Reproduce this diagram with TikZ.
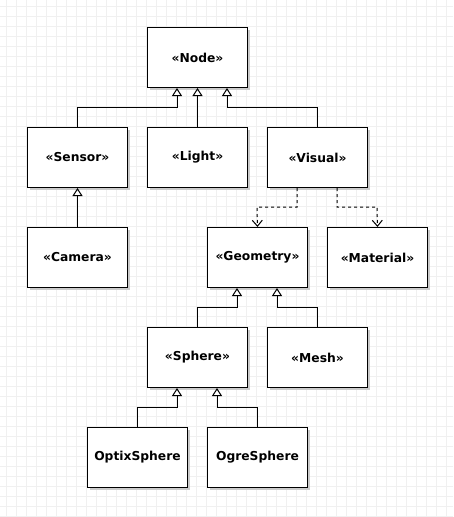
\documentclass[tikz,border=0pt]{standalone}
\usepackage{fontspec}
\setmainfont{DejaVu Sans}
\usetikzlibrary{arrows.meta}
\begin{document}
\begin{tikzpicture}[x=1pt,y=-1pt,
  cls/.style={draw=black,line width=1pt,fill=white,minimum width=100pt,minimum height=60pt,inner sep=0pt,
    font=\fontsize{12.3}{14}\selectfont\bfseries,anchor=north west},
  inherit/.style={line width=1pt,-{Triangle[open,width=10pt,length=8pt,fill=white]}},
  dep/.style={line width=1pt,dashed,dash pattern=on 3pt off 3pt,-{Straight Barb[width=10pt,length=6pt,line width=1pt]}}]
\useasboundingbox (0,0) rectangle (453,517);
\fill[white] (0,0) rectangle (453,517);
\foreach \k in {0,...,44} {\draw[black!6,line width=1pt] (6+10*\k,0) -- (6+10*\k,517);}
\foreach \k in {0,...,51} {\draw[black!6,line width=1pt] (0,6+10*\k) -- (453,6+10*\k);}
% shadows
\foreach \x/\y in {147/27,27/127,147/127,267/127,27/227,207/227,327/227,147/327,267/327,87/427,207/427}
  {\fill[black!20] (\x+3,\y+3) rectangle (\x+103,\y+63);}
\node[cls] (node) at (147,27) {«Node»};
\node[cls] (sensor) at (27,127) {«Sensor»};
\node[cls] (light) at (147,127) {«Light»};
\node[cls] (visual) at (267,127) {«Visual»};
\node[cls] (camera) at (27,227) {«Camera»};
\node[cls] (geometry) at (207,227) {«Geometry»};
\node[cls] (material) at (327,227) {«Material»};
\node[cls] (sphere) at (147,327) {«Sphere»};
\node[cls] (mesh) at (267,327) {«Mesh»};
\node[cls] (optix) at (87,427) {OptixSphere};
\node[cls] (ogre) at (207,427) {OgreSphere};
% inheritance
\draw[inherit] (sensor.north) |- (177,107) -- (node.south -| 177,0);
\draw[inherit] (light.north) -- (node.south);
\draw[inherit] (visual.north) |- (227,107) -- (node.south -| 227,0);
\draw[inherit] (camera.north) -- (sensor.south);
\draw[inherit] (sphere.north) |- (237,307) -- (geometry.south -| 237,0);
\draw[inherit] (mesh.north) |- (277,307) -- (geometry.south -| 277,0);
\draw[inherit] (optix.north) |- (177,407) -- (sphere.south -| 177,0);
\draw[inherit] (ogre.north) |- (217,407) -- (sphere.south -| 217,0);
% dependencies
\draw[dep] (visual.south -| 297,0) |- (257,207) -- (geometry.north);
\draw[dep] (visual.south -| 337,0) |- (377,207) -- (material.north);
\end{tikzpicture}
\end{document}
